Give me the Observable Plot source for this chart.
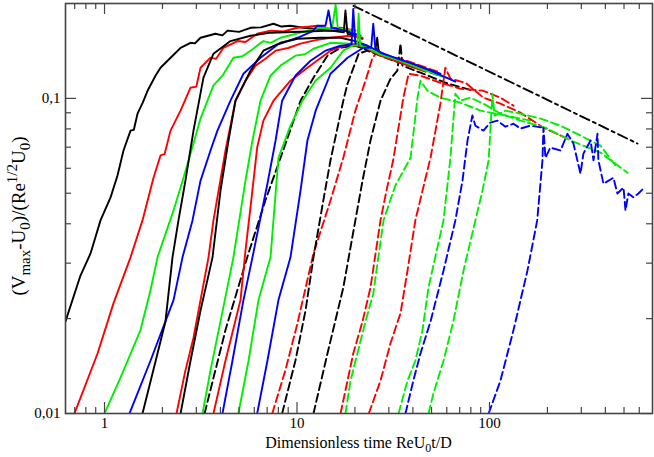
<!DOCTYPE html>
<html><head><meta charset="utf-8">
<script src="https://cdn.jsdelivr.net/npm/d3@7"></script>
<script src="https://cdn.jsdelivr.net/npm/@observablehq/plot@0.6"></script>
<style>body{margin:0;background:#fff;} #chart svg{display:block;} #chart svg text{font-family:"Liberation Serif","Times New Roman",Times,serif !important;}</style>
</head><body><div id="chart"></div>
<script>
// ---- solid curves: [time, value] ----
const s1 = [[0.627,0.0196],[0.75,0.0274],[0.846,0.0322],[0.953,0.041],[1.075,0.0485],[1.168,0.0569],[1.255,0.0683],[1.365,0.079],[1.42,0.0795],[1.484,0.0894],[1.58,0.097],[1.673,0.1057],[1.84,0.118],[1.954,0.1251],[2.125,0.1316],[2.3,0.138],[2.483,0.1447],[2.798,0.1501],[2.95,0.1495],[3.153,0.1557],[3.45,0.158],[3.77,0.1603],[4.1,0.1585],[4.355,0.164],[5.0,0.1625],[5.733,0.1675],[6.5,0.168],[7.549,0.1725],[8.3,0.169],[9.25,0.170],[10.8,0.1675],[12.18,0.1663],[14.93,0.164],[17.85,0.164],[20.1,0.158]];
const s2 = [[0.698,0.01],[0.92,0.0155],[1.114,0.0224],[1.365,0.0313],[1.575,0.041],[1.797,0.056],[1.954,0.0659],[2.05,0.0665],[2.203,0.079],[2.483,0.0914],[2.798,0.1081],[3.0,0.109],[3.153,0.1251],[3.553,0.1346],[3.8,0.1335],[4.15,0.1447],[4.91,0.152],[5.4,0.151],[6.21,0.1603],[7.283,0.164],[8.5,0.163],[10.05,0.1675],[12.77,0.170],[14.5,0.1665],[16.83,0.1675],[20.1,0.164]];
const s3 = [[1.0,0.01],[1.211,0.013],[1.538,0.0184],[1.733,0.0246],[1.885,0.0313],[2.283,0.0441],[2.573,0.056],[2.899,0.0719],[3.153,0.0863],[3.428,0.0983],[3.681,0.11],[4.1,0.118],[4.674,0.1346],[5.2,0.136],[5.733,0.1417],[6.69,0.152],[7.3,0.15],[8.209,0.1557],[10.43,0.1616],[13.25,0.1675],[15.2,0.166],[15.87,0.198],[16.3,0.166],[16.83,0.1663],[20.1,0.164]];
const s4 = [[1.348,0.01],[1.733,0.0147],[2.283,0.0229],[2.542,0.0313],[2.865,0.041],[3.153,0.0548],[3.553,0.0683],[3.86,0.079],[4.512,0.0983],[5.27,0.1197],[6.462,0.1346],[7.92,0.148],[10.05,0.1557],[12.0,0.163],[12.77,0.17],[14.06,0.17],[14.58,0.19],[15.1,0.1675],[17.85,0.164],[21.38,0.158]];
const s5 = [[1.575,0.01],[1.885,0.0155],[2.073,0.0196],[2.255,0.0313],[2.422,0.041],[2.633,0.0548],[2.899,0.079],[3.266,0.1163],[3.681,0.1386],[4.512,0.152],[5.733,0.158],[7.283,0.1616],[10.43,0.1627],[14.93,0.164],[17.5,0.162],[17.85,0.19],[18.3,0.1603],[21.9,0.1546]];
const s6 = [[2.366,0.01],[2.633,0.0137],[2.899,0.0174],[3.153,0.0229],[3.469,0.0313],[3.681,0.041],[4.25,0.0683],[4.79,0.0983],[5.4,0.1138],[6.09,0.127],[6.8,0.133],[7.74,0.1417],[9.0,0.1445],[10.43,0.1491],[12.5,0.153],[14.93,0.1557],[18.97,0.158],[21.9,0.1557]];
const s7 = [[2.483,0.01],[2.798,0.0147],[3.153,0.0212],[3.64,0.0313],[4.005,0.051],[4.406,0.0735],[4.79,0.0983],[5.733,0.1224],[6.69,0.1417],[8.209,0.1501],[10.05,0.1546],[13.25,0.1557],[16.83,0.1557],[20.1,0.152],[23.2,0.1469],[25.5,0.142],[26.1,0.1557],[26.6,0.14],[28.8,0.1366],[38.9,0.1288]];
const s8 = [[3.23,0.01],[3.553,0.0137],[4.005,0.0196],[4.674,0.0313],[5.4,0.0548],[5.87,0.0735],[6.462,0.0983],[7.283,0.118],[8.209,0.127],[9.81,0.1366],[11.0,0.138],[12.18,0.1437],[14.93,0.1501],[18.97,0.1491],[23.2,0.1469],[27.15,0.1376],[36.6,0.1297]];
const s9 = [[3.681,0.01],[4.25,0.0147],[5.087,0.0229],[5.4,0.0329],[5.8,0.048],[6.21,0.0698],[6.69,0.085],[7.549,0.0983],[9.25,0.1138],[11.33,0.1251],[14.93,0.1417],[18.97,0.1491],[22.7,0.1447],[27.15,0.1366],[34.5,0.1297],[46.5,0.1215]];
const s10 = [[4.1,0.01],[4.62,0.0147],[5.27,0.0229],[5.87,0.0313],[7.02,0.0536],[7.74,0.0735],[8.37,0.0983],[9.81,0.118],[11.75,0.1316],[14.06,0.1417],[16.83,0.1469],[19.2,0.148],[19.6,0.1923],[20.1,0.149],[23.2,0.1469],[28.8,0.1376],[38.9,0.1288],[55.6,0.1197]];
const s11 = [[4.96,0.01],[5.6,0.0147],[6.31,0.0229],[7.283,0.0313],[8.01,0.0648],[9.25,0.0819],[10.68,0.0983],[12.47,0.1138],[14.93,0.1251],[17.4,0.1417],[19.42,0.1469],[20.6,0.147],[20.9,0.1855],[21.3,0.147],[23.2,0.1447],[27.15,0.1376],[34.5,0.1316],[46.5,0.1224],[59,0.1163]];
const s12 = [[6.21,0.01],[7.02,0.0147],[8.01,0.0229],[9.25,0.0313],[10.43,0.051],[11.33,0.0735],[12.5,0.0914],[14.93,0.1197],[18.3,0.1346],[22.1,0.1447],[24.3,0.145],[24.9,0.1725],[25.5,0.145],[27.15,0.1396],[33.2,0.1336],[41.2,0.1279],[49.4,0.1224],[66.5,0.1131]];

// ---- dashed curves ----
const d1 = [[3.31,0.01],[4.25,0.0184],[5.53,0.0315],[6.85,0.0474],[8.47,0.0683],[10.43,0.0983],[12.18,0.1163],[14.4,0.1366],[16.83,0.1447],[20.1,0.1469],[25.5,0.1396],[32.4,0.1316]];
const d2 = [[7.44,0.01],[8.7,0.0137],[10.05,0.0193],[12.18,0.0322],[14.93,0.0474],[17.4,0.0648],[20.1,0.0914],[22.7,0.1138],[24.68,0.1346],[26.0,0.14],[28.8,0.1366],[34.5,0.1336],[43.8,0.127],[55.6,0.1206]];
const d3 = [[8.37,0.01],[9.81,0.0147],[11.07,0.0212],[12.18,0.0313],[13.7,0.0474],[14.93,0.0636],[17.4,0.0983],[18.3,0.1113],[20.9,0.1386],[23.2,0.1417],[28.8,0.1346],[36.6,0.1279],[55.6,0.118]];
const d4 = [[12.18,0.01],[14.4,0.0155],[17.4,0.0251],[20.1,0.041],[21.9,0.0548],[24.09,0.0735],[27.15,0.0983],[30.6,0.1154],[33.2,0.1224],[34.5,0.1491],[35.3,0.127],[43.8,0.1206],[59,0.1121],[82.4,0.1057]];
const d5 = [[16.83,0.01],[18.3,0.0127],[19.6,0.0155],[21.9,0.0196],[24.09,0.0251],[27.15,0.041],[29.17,0.051],[31.6,0.0636],[35.7,0.1005],[38.0,0.1197],[43.8,0.118],[55.6,0.1121],[70.7,0.1073],[93,0.1057],[114,0.1005],[133.3,0.0948]];
const d6 = [[17.85,0.01],[18.97,0.0127],[20.6,0.0155],[22.7,0.0196],[24.9,0.024],[28.15,0.041],[32.4,0.0528],[38.9,0.0648],[42.3,0.1005],[43.8,0.1138],[47.6,0.1057],[55.6,0.1005],[70.7,0.0969],[89.8,0.0914],[121,0.0882],[163,0.085]];
const d7 = [[23.6,0.01],[27.15,0.0127],[30.6,0.0167],[34.5,0.0208],[37.5,0.0284],[41.2,0.041],[44.9,0.051],[49.4,0.0648],[55.6,0.0962],[59,0.1251],[62.7,0.1154],[75,0.1121],[93,0.1005],[114,0.0962],[144.8,0.0901],[190.7,0.0807],[254,0.0745]];
const d8 = [[33.7,0.01],[37.5,0.0127],[41.2,0.0147],[44.9,0.0184],[48.2,0.0251],[57.7,0.041],[62.7,0.0648],[66.5,0.1034],[70.7,0.0983],[79.6,0.1005],[93,0.0962],[114,0.0894],[144.8,0.085],[195.3,0.0807],[263.6,0.0735],[377,0.0673],[521,0.0581]];
const d9 = [[36.6,0.01],[40.2,0.0127],[43.8,0.0155],[49.4,0.0196],[57.7,0.0284],[66.5,0.041],[72.4,0.0548],[76.9,0.0735],[81.5,0.0882],[84.5,0.0819],[93,0.079],[101,0.0838],[110,0.085],[121,0.0813],[133.3,0.0831],[144.8,0.0802],[163,0.0819],[190.7,0.0807]];
const d10 = [[48.2,0.01],[51.2,0.0116],[57.7,0.0147],[64.9,0.0196],[73.3,0.0284],[84.5,0.041],[92,0.051],[99,0.0636],[103.7,0.1034],[106.2,0.0882],[121,0.0914],[144.8,0.0894],[184,0.0863],[234,0.0819],[297,0.0762],[377,0.0708],[451,0.0613]];
const d11 = [[99,0.01],[114,0.0127],[133.3,0.0184],[157.5,0.0284],[177,0.041],[188.5,0.0636],[190.7,0.0807],[195.3,0.0648],[207,0.0698],[234,0.0683],[254,0.0772],[273,0.0719],[297,0.0577],[307.6,0.0668],[335,0.0735],[347,0.0636],[364,0.0772],[368,0.0636],[391,0.0536],[440.5,0.056],[462,0.0499],[497,0.0521],[509,0.0441],[527,0.0499],[560,0.0485],[594,0.0499],[631,0.0518]];

// ---- reference power-law line (dash-dot) ----
const refLine = [[19.66,0.1966],[587,0.0719]];

// ---- ticks and labels ----
const xMajor = [1, 10, 100];
const xTickLabels = ["1", "10", "100"];
const xMinor = [0.7,0.8,0.9,2,3,4,5,6,7,8,9,20,30,40,50,60,70,80,90,200,300,400,500,600];
const yMajor = [0.01, 0.1];
const yTickLabels = ["0,01", "0,1"];
const yMinor = [0.02,0.03,0.04,0.05,0.06,0.07,0.08,0.09];

const solidSeries = [s1,s2,s3,s4,s5,s6,s7,s8,s9,s10,s11,s12];
const solidColors = ["#000000","#ff0000","#00ee00","#0000ff","#000000","#ff0000","#000000","#00ee00","#ff0000","#0000ff","#00ee00","#0000ff"];
const dashedSeries = [d1,d2,d3,d4,d5,d6,d7,d8,d9,d10,d11];
const dashedColors = ["#000000","#ff0000","#000000","#000000","#ff0000","#00ee00","#ff0000","#00ee00","#0000ff","#00ee00","#0000ff"];

const W = 654, H = 457, mL = 65, mR = 2, mT = 3, mB = 44;
const innerW = W - mL - mR, innerH = H - mT - mB;
const majorLen = 11, minorLen = 6;
const ff = '"Liberation Serif", "Times New Roman", Times, serif';

const marks = [];
dashedSeries.forEach((s, i) => marks.push(Plot.line(s, {x: d => d[0], y: d => d[1], stroke: dashedColors[i], strokeWidth: 1.9, strokeDasharray: "8,4", clip: true})));
solidSeries.forEach((s, i) => marks.push(Plot.line(s, {x: d => d[0], y: d => d[1], stroke: solidColors[i], strokeWidth: 1.9, clip: true})));
marks.push(Plot.line(refLine, {x: d => d[0], y: d => d[1], stroke: "#000", strokeWidth: 1.9, strokeDasharray: "10,4,3,4", clip: true}));

// inward ticks on all four sides
const tickStroke = {stroke: "#444", strokeWidth: 1.2};
marks.push(
  Plot.ruleX(xMajor, {...tickStroke, insetTop: innerH - majorLen}),
  Plot.ruleX(xMajor, {...tickStroke, insetBottom: innerH - majorLen}),
  Plot.ruleX(xMinor, {...tickStroke, insetTop: innerH - minorLen}),
  Plot.ruleX(xMinor, {...tickStroke, insetBottom: innerH - minorLen}),
  Plot.ruleY(yMajor, {...tickStroke, insetRight: innerW - majorLen}),
  Plot.ruleY(yMajor, {...tickStroke, insetLeft: innerW - majorLen}),
  Plot.ruleY(yMinor, {...tickStroke, insetRight: innerW - minorLen}),
  Plot.ruleY(yMinor, {...tickStroke, insetLeft: innerW - minorLen}),
  Plot.frame({stroke: "#444", strokeWidth: 1.6}),
  Plot.axisX({ticks: xMajor, tickFormat: d => xTickLabels[xMajor.indexOf(d)], tickSize: 0, tickPadding: 4, label: null, fontSize: 15, fontFamily: ff}),
  Plot.axisY({ticks: yMajor, tickFormat: d => yTickLabels[yMajor.indexOf(d)], tickSize: 0, tickPadding: 5, label: null, fontSize: 15, fontFamily: ff})
);

const chart = Plot.plot({
  width: W, height: H,
  marginLeft: mL, marginRight: mR, marginTop: mT, marginBottom: mB,
  x: {type: "log", domain: [0.627, 703]},
  y: {type: "log", domain: [0.01, 0.2]},
  style: {fontFamily: ff, fontSize: "15px", color: "#000", background: "#fff"},
  marks
});

// axis titles with sub/superscripts (plain DOM)
const NS = "http://www.w3.org/2000/svg";
function makeText(attrs, parts) {
  const t = document.createElementNS(NS, "text");
  for (const k in attrs) t.setAttribute(k, attrs[k]);
  t.style.fontFamily = ff;
  for (const p of parts) {
    const s = document.createElementNS(NS, "tspan");
    if (p.dy) s.setAttribute("dy", p.dy);
    if (p.size) s.setAttribute("font-size", p.size);
    s.textContent = p.t;
    t.appendChild(s);
  }
  chart.appendChild(t);
}
makeText({x: mL + innerW / 2, y: 448, "text-anchor": "middle", "font-size": 16, fill: "#000"},
  [{t: "Dimensionless time ReU"}, {t: "0", dy: 4, size: 12}, {t: "t/D", dy: -4}]);
makeText({transform: `translate(25,${mT + innerH / 2 + 8}) rotate(-90)`, "text-anchor": "middle", "font-size": 19, fill: "#000"},
  [{t: "(V"}, {t: "max", dy: 5, size: 15}, {t: "-U", dy: -5}, {t: "0", dy: 5, size: 15}, {t: ")/(Re", dy: -5},
   {t: "1/2", dy: -8, size: 15}, {t: "U", dy: 8}, {t: "0", dy: 5, size: 15}, {t: ")", dy: -5}]);

document.getElementById("chart").appendChild(chart);
</script>
</body></html>
